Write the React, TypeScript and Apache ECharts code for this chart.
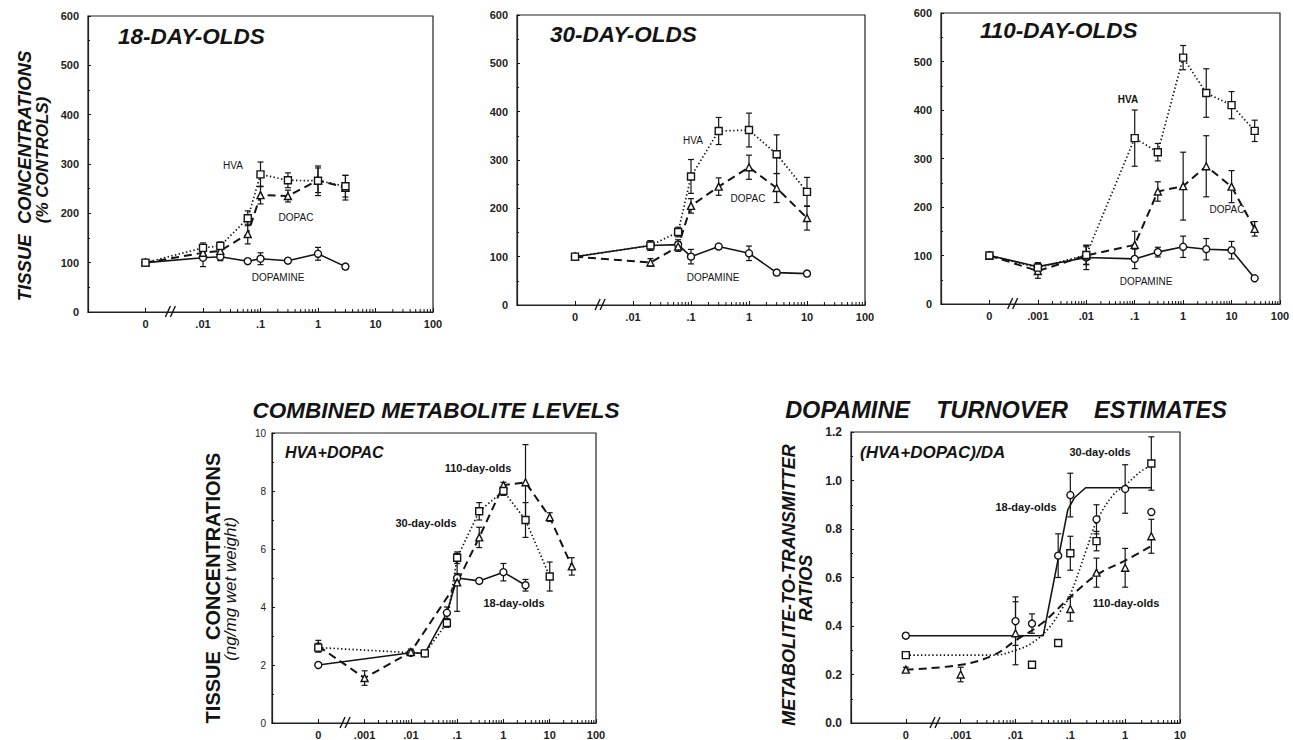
import React, { useEffect, useRef } from "react";
import * as echarts from "echarts";

// ---------- DATA (dose in mg/kg; 0 = control) ----------
// 18-day-olds, % of controls
const DOSE_18 = [0, 0.01, 0.02, 0.06, 0.1, 0.3, 1, 3];
const HVA_18 = [100, 130, 134, 190, 279, 267, 266, 255];
const HVA_18_SEM = [3, 10, 8, 15, 25, 15, 30, 22];
const DOPAC_18 = [100, 120, 124, 158, 237, 235, 267, 252];
const DOPAC_18_SEM = [3, 12, 10, 20, 18, 12, 25, 25];
const DA_18 = [100, 110, 112, 103, 108, 104, 118, 92];
const DA_18_SEM = [3, 18, 8, 5, 12, 4, 13, 5];

// 30-day-olds, % of controls
const DOSE_30 = [0, 0.02, 0.06, 0.1, 0.3, 1, 3, 10];
const HVA_30 = [100, 123, 151, 266, 360, 362, 312, 234];
const HVA_30_SEM = [3, 10, 10, 35, 28, 35, 40, 30];
const DOPAC_30 = [100, 88, 121, 205, 245, 285, 242, 180];
const DOPAC_30_SEM = [3, 8, 10, 15, 18, 25, 30, 25];
const DA_30 = [100, 123, 125, 100, 121, 107, 67, 65];
const DA_30_SEM = [3, 10, 10, 15, 5, 15, 5, 5];

// 110-day-olds, % of controls
const DOSE_110 = [0, 0.001, 0.01, 0.1, 0.3, 1, 3, 10, 30];
const HVA_110 = [100, 75, 101, 342, 313, 508, 435, 410, 357];
const HVA_110_SEM = [3, 10, 20, 58, 18, 25, 50, 28, 22];
const DOPAC_110 = [100, 68, 100, 122, 232, 243, 284, 242, 155];
const DOPAC_110_SEM = [3, 15, 18, 28, 20, 70, 63, 33, 15];
const DA_110 = [100, 77, 96, 93, 107, 118, 113, 111, 53];
const DA_110_SEM = [3, 8, 25, 20, 10, 22, 22, 18, 3];

// Combined metabolite levels, HVA+DOPAC ng/mg wet weight
const CMB_DOSE_18 = [0, 0.01, 0.02, 0.06, 0.1, 0.3, 1, 3];
const CMB_18 = [2.0, 2.42, 2.4, 3.8, 5.0, 4.9, 5.2, 4.75];
const CMB_18_SEM = [0, 0.08, 0.08, 0.2, 0.15, 0.08, 0.3, 0.2];
const CMB_DOSE_30 = [0, 0.02, 0.06, 0.1, 0.3, 1, 3, 10];
const CMB_30 = [2.6, 2.4, 3.45, 5.7, 7.3, 8.0, 7.0, 5.05];
const CMB_30_SEM = [0.15, 0.05, 0.15, 0.2, 0.3, 0.15, 0.6, 0.5];
const CMB_DOSE_110 = [0, 0.001, 0.01, 0.1, 0.3, 1, 3, 10, 30];
const CMB_110 = [2.65, 1.55, 2.45, 4.85, 6.4, 8.2, 8.3, 7.1, 5.4];
const CMB_110_SEM = [0.2, 0.25, 0.1, 1.0, 0.35, 0.1, 1.3, 0.15, 0.3];

// Turnover ratios (HVA+DOPAC)/DA
const RAT_DOSE_18 = [0, 0.01, 0.02, 0.06, 0.1, 0.3, 1, 3];
const RAT_18 = [0.36, 0.42, 0.41, 0.69, 0.94, 0.84, 0.965, 0.87];
const RAT_18_SEM = [0.01, 0.1, 0.04, 0.09, 0.09, 0.06, 0.1, 0];
const RAT_DOSE_30 = [0, 0.02, 0.06, 0.1, 0.3, 3];
const RAT_30 = [0.28, 0.24, 0.33, 0.7, 0.75, 1.07];
const RAT_30_SEM = [0, 0, 0, 0.07, 0.04, 0.11];
const RAT_DOSE_110 = [0, 0.001, 0.01, 0.1, 0.3, 1, 3];
const RAT_110 = [0.22, 0.2, 0.37, 0.47, 0.62, 0.64, 0.77];
const RAT_110_SEM = [0.01, 0.03, 0.13, 0.05, 0.06, 0.08, 0.07];
// fitted curves
const FIT_DOSE_18 = [0, 0.032, 0.09, 0.12, 0.19, 3];
const FIT_18 = [0.36, 0.36, 0.88, 0.93, 0.97, 0.97];
const FIT_DOSE_30 = [0, 0.004, 0.01, 0.02, 0.04, 0.07, 0.1, 0.2, 0.3, 0.6, 1, 2, 3];
const FIT_30 = [0.28, 0.28, 0.3, 0.33, 0.39, 0.47, 0.53, 0.72, 0.83, 0.94, 0.98, 1.04, 1.06];
const FIT_DOSE_110 = [0, 0.001, 0.004, 0.01, 0.03, 0.1, 0.3, 1, 3];
const FIT_110 = [0.22, 0.24, 0.28, 0.34, 0.41, 0.52, 0.61, 0.67, 0.73];

// axis settings per panel
const X_MIN = [1e-4, 1e-4, 1e-5, 1e-5, 1e-5];
const X_MAX = [100, 100, 100, 100, 10];
const CTRL_POS = [1e-3, 1e-3, 1e-4, 1e-4, 1e-4]; // where "0" sits
const BREAK_POS = [Math.pow(10, -2.55), Math.pow(10, -2.55), Math.pow(10, -3.5), Math.pow(10, -3.4), Math.pow(10, -3.45)];
const Y_MAX = [600, 600, 600, 10, 1.2];
const Y_INT = [100, 100, 100, 2, 0.2];
const DECADE_LABELS: Record<string, string> = { "-3": ".001", "-2": ".01", "-1": ".1", "0": "1", "1": "10", "2": "100" };

const GRIDS = [
  { left: 88, top: 16, width: 345, height: 296 },
  { left: 517, top: 15, width: 348, height: 290 },
  { left: 941, top: 13, width: 339, height: 291 },
  { left: 272, top: 433, width: 324, height: 290 },
  { left: 851, top: 432, width: 329, height: 291 },
];

const FF = "'Liberation Sans', Arial, Helvetica, sans-serif";
const INK = "#141414";

const toPts = (doses: number[], vals: number[], ctrl: number) =>
  doses.map((d, i) => [d === 0 ? ctrl : d, vals[i]]);
const toErr = (doses: number[], vals: number[], sem: number[], ctrl: number) =>
  doses
    .map((d, i) => [d === 0 ? ctrl : d, vals[i] - sem[i], vals[i] + sem[i]])
    .filter((_, i) => sem[i] > 0);

const LINE_TYPES: Record<string, any> = {
  solid: { type: "solid", width: 1.6 },
  dotted: { type: [1.4, 2.4], width: 1.7 },
  dashed: { type: [8, 5], width: 2 },
};

function lineSeries(idx: number, data: number[][], kind: string, symbol: string | null, smooth = false) {
  return {
    type: "line",
    xAxisIndex: idx,
    yAxisIndex: idx,
    data,
    smooth: smooth ? 0.4 : false,
    symbol: symbol || "none",
    showSymbol: !!symbol,
    symbolSize: 7,
    itemStyle: { color: "#fff", borderColor: INK, borderWidth: 1.4 },
    lineStyle: { color: INK, ...LINE_TYPES[kind] },
    z: 4,
    silent: true,
  };
}

function scatterSeries(idx: number, data: number[][], symbol: string) {
  return {
    type: "scatter",
    xAxisIndex: idx,
    yAxisIndex: idx,
    data,
    symbol,
    symbolSize: 7,
    itemStyle: { color: "#fff", borderColor: INK, borderWidth: 1.4, opacity: 1 },
    z: 5,
    silent: true,
  };
}

function errSeries(idx: number, data: number[][]) {
  return {
    type: "custom",
    xAxisIndex: idx,
    yAxisIndex: idx,
    data,
    encode: { x: 0, y: [1, 2] },
    z: 3,
    silent: true,
    renderItem: (_p: any, api: any) => {
      const x = api.value(0);
      const a = api.coord([x, api.value(1)]);
      const b = api.coord([x, api.value(2)]);
      const st = { stroke: INK, lineWidth: 1.2 };
      return {
        type: "group",
        children: [
          { type: "line", shape: { x1: a[0], y1: a[1], x2: b[0], y2: b[1] }, style: st },
          { type: "line", shape: { x1: a[0] - 3, y1: a[1], x2: a[0] + 3, y2: a[1] }, style: st },
          { type: "line", shape: { x1: b[0] - 3, y1: b[1], x2: b[0] + 3, y2: b[1] }, style: st },
        ],
      };
    },
  };
}

function minorTickSeries(idx: number) {
  const vals: number[][] = [];
  const lo = Math.round(Math.log10(CTRL_POS[idx])) + 1;
  const hi = Math.round(Math.log10(X_MAX[idx]));
  for (let e = lo; e < hi; e++) for (let k = 2; k <= 9; k++) vals.push([k * Math.pow(10, e), 0]);
  return {
    type: "custom",
    xAxisIndex: idx,
    yAxisIndex: idx,
    data: vals,
    z: 6,
    silent: true,
    renderItem: (_p: any, api: any) => {
      const p = api.coord([api.value(0), 0]);
      return { type: "line", shape: { x1: p[0], y1: p[1], x2: p[0], y2: p[1] - 3 }, style: { stroke: INK, lineWidth: 1 } };
    },
  };
}

function breakSeries(idx: number) {
  return {
    type: "custom",
    xAxisIndex: idx,
    yAxisIndex: idx,
    data: [[BREAK_POS[idx], 0]],
    z: 7,
    silent: true,
    clip: false,
    renderItem: (_p: any, api: any) => {
      const p = api.coord([api.value(0), 0]);
      const st = { stroke: INK, lineWidth: 1.4 };
      return {
        type: "group",
        children: [
          { type: "line", shape: { x1: p[0] - 6, y1: p[1] + 5, x2: p[0] - 1, y2: p[1] - 6 }, style: st },
          { type: "line", shape: { x1: p[0] - 1, y1: p[1] + 5, x2: p[0] + 4, y2: p[1] - 6 }, style: st },
        ],
      };
    },
  };
}

function txt(x: number, y: number, text: string, font: string, align = "center", rot = 0) {
  return {
    type: "text",
    x,
    y,
    rotation: rot,
    silent: true,
    style: {
      text,
      font,
      fill: INK,
      align,
      textAlign: align,
      verticalAlign: "middle",
      textVerticalAlign: "middle",
    },
  };
}

function buildOption() {
  const grids = GRIDS.map((g) => ({
    ...g,
    show: true,
    borderColor: "#222",
    borderWidth: 1.2,
    backgroundColor: "transparent",
    containLabel: false,
    outerBoundsMode: "none",
  }));

  const xAxes = GRIDS.map((_, i) => {
    const ctrlExp = Math.round(Math.log10(CTRL_POS[i]));
    return {
      type: "log",
      logBase: 10,
      gridIndex: i,
      min: X_MIN[i],
      max: X_MAX[i],
      splitNumber: 10,
      axisLine: { show: true, lineStyle: { color: "#222", width: 1.2 } },
      axisTick: { show: true, inside: true, length: 4, lineStyle: { color: INK } },
      splitLine: { show: false },
      axisLabel: {
        show: true,
        interval: 0,
        margin: 6,
        color: "#222",
        fontFamily: FF,
        fontSize: 11,
        fontWeight: "bold",
        formatter: (v: number) => {
          const e = Math.round(Math.log10(v));
          if (e === ctrlExp) return "0";
          if (e < ctrlExp) return "";
          return DECADE_LABELS[String(e)] || "";
        },
      },
    };
  });

  const yAxes = GRIDS.map((_, i) => ({
    type: "value",
    gridIndex: i,
    min: 0,
    max: Y_MAX[i],
    interval: Y_INT[i],
    axisLine: { show: true, lineStyle: { color: "#222", width: 1.2 } },
    axisTick: { show: true, inside: true, length: 3, lineStyle: { color: INK } },
    minorTick: { show: true, splitNumber: 2, length: 2, lineStyle: { color: INK } },
    splitLine: { show: false },
    axisLabel: {
      color: "#222",
      fontFamily: FF,
      fontSize: i === 3 ? 10 : i === 4 ? 12 : 11,
      fontWeight: i === 3 ? "normal" : "bold",
      margin: i === 3 ? 6 : 9,
      formatter: (v: number) => (i === 4 ? v.toFixed(1) : String(Math.round(v))),
    },
  }));

  const series: any[] = [];
  const top = [
    { d: DOSE_18, h: HVA_18, hs: HVA_18_SEM, p: DOPAC_18, ps: DOPAC_18_SEM, a: DA_18, as: DA_18_SEM },
    { d: DOSE_30, h: HVA_30, hs: HVA_30_SEM, p: DOPAC_30, ps: DOPAC_30_SEM, a: DA_30, as: DA_30_SEM },
    { d: DOSE_110, h: HVA_110, hs: HVA_110_SEM, p: DOPAC_110, ps: DOPAC_110_SEM, a: DA_110, as: DA_110_SEM },
  ];
  top.forEach((s, i) => {
    const c = CTRL_POS[i];
    series.push(errSeries(i, toErr(s.d, s.h, s.hs, c)));
    series.push(errSeries(i, toErr(s.d, s.p, s.ps, c)));
    series.push(errSeries(i, toErr(s.d, s.a, s.as, c)));
    series.push(lineSeries(i, toPts(s.d, s.a, c), "solid", "circle"));
    series.push(lineSeries(i, toPts(s.d, s.p, c), "dashed", "triangle"));
    series.push(lineSeries(i, toPts(s.d, s.h, c), "dotted", "rect"));
  });

  // combined panel
  const c3 = CTRL_POS[3];
  series.push(errSeries(3, toErr(CMB_DOSE_18, CMB_18, CMB_18_SEM, c3)));
  series.push(errSeries(3, toErr(CMB_DOSE_30, CMB_30, CMB_30_SEM, c3)));
  series.push(errSeries(3, toErr(CMB_DOSE_110, CMB_110, CMB_110_SEM, c3)));
  series.push(lineSeries(3, toPts(CMB_DOSE_18, CMB_18, c3), "solid", "circle"));
  series.push(lineSeries(3, toPts(CMB_DOSE_110, CMB_110, c3), "dashed", "triangle"));
  series.push(lineSeries(3, toPts(CMB_DOSE_30, CMB_30, c3), "dotted", "rect"));

  // turnover panel
  const c4 = CTRL_POS[4];
  series.push(errSeries(4, toErr(RAT_DOSE_18, RAT_18, RAT_18_SEM, c4)));
  series.push(errSeries(4, toErr(RAT_DOSE_30, RAT_30, RAT_30_SEM, c4)));
  series.push(errSeries(4, toErr(RAT_DOSE_110, RAT_110, RAT_110_SEM, c4)));
  series.push(lineSeries(4, toPts(FIT_DOSE_18, FIT_18, c4), "solid", null));
  series.push(lineSeries(4, toPts(FIT_DOSE_30, FIT_30, c4), "dotted", null, true));
  series.push(lineSeries(4, toPts(FIT_DOSE_110, FIT_110, c4), "dashed", null, true));
  series.push(scatterSeries(4, toPts(RAT_DOSE_18, RAT_18, c4), "circle"));
  series.push(scatterSeries(4, toPts(RAT_DOSE_30, RAT_30, c4), "rect"));
  series.push(scatterSeries(4, toPts(RAT_DOSE_110, RAT_110, c4), "triangle"));

  for (let i = 0; i < 5; i++) {
    series.push(minorTickSeries(i));
    series.push(breakSeries(i));
  }

  const BI = (s: number) => `italic bold ${s}px ${FF}`;
  const B = (s: number) => `bold ${s}px ${FF}`;
  const N = (s: number) => `${s}px ${FF}`;
  const R90 = Math.PI / 2;

  const graphic = [
    // y-axis titles
    txt(24, 176, "TISSUE  CONCENTRATIONS", BI(18.5), "center", R90),
    txt(42, 160, "(% CONTROLS)", BI(17), "center", R90),
    txt(213, 588, "TISSUE  CONCENTRATIONS", B(20), "center", R90),
    txt(230, 589, "(ng/mg wet weight)", `italic 17px ${FF}`, "center", R90),
    txt(789, 585, "METABOLITE-TO-TRANSMITTER", BI(18), "center", R90),
    txt(806, 588, "RATIOS", BI(18), "center", R90),
    // panel titles
    txt(118, 36, "18-DAY-OLDS", BI(22.5), "left"),
    txt(550, 34, "30-DAY-OLDS", BI(22.5), "left"),
    txt(980, 30, "110-DAY-OLDS", BI(22.5), "left"),
    txt(436, 410, "COMBINED METABOLITE LEVELS", BI(22.5), "center"),
    txt(1006, 410, "DOPAMINE    TURNOVER    ESTIMATES", BI(23.5), "center"),
    txt(285, 452, "HVA+DOPAC", BI(16), "left"),
    txt(860, 452, "(HVA+DOPAC)/DA", BI(17), "left"),
    // series labels
    txt(233, 165, "HVA", N(10)),
    txt(296, 217, "DOPAC", N(10)),
    txt(278, 277, "DOPAMINE", N(10)),
    txt(693, 140, "HVA", N(10)),
    txt(748, 198, "DOPAC", N(10)),
    txt(713, 277, "DOPAMINE", N(10)),
    txt(1128, 99, "HVA", B(10)),
    txt(1227, 209, "DOPAC", N(10)),
    txt(1146, 281, "DOPAMINE", N(10)),
    txt(478, 468, "110-day-olds", B(11)),
    txt(426, 523, "30-day-olds", B(11)),
    txt(514, 603, "18-day-olds", B(11)),
    txt(1100, 452, "30-day-olds", B(11)),
    txt(1026, 507, "18-day-olds", B(11)),
    txt(1126, 603, "110-day-olds", B(11)),
  ];

  return {
    animation: false,
    backgroundColor: "#ffffff",
    textStyle: { fontFamily: FF },
    grid: grids,
    xAxis: xAxes,
    yAxis: yAxes,
    series,
    graphic,
  };
}

export default function App() {
  const ref = useRef<HTMLDivElement>(null);
  useEffect(() => {
    if (!ref.current) return;
    const chart = echarts.init(ref.current, null, { renderer: "svg" });
    chart.setOption(buildOption() as any);
    return () => chart.dispose();
  }, []);
  return (
    <div
      ref={ref}
      style={{ position: "fixed", left: 0, top: 0, width: 1293, height: 740, background: "#fff" }}
    />
  );
}
